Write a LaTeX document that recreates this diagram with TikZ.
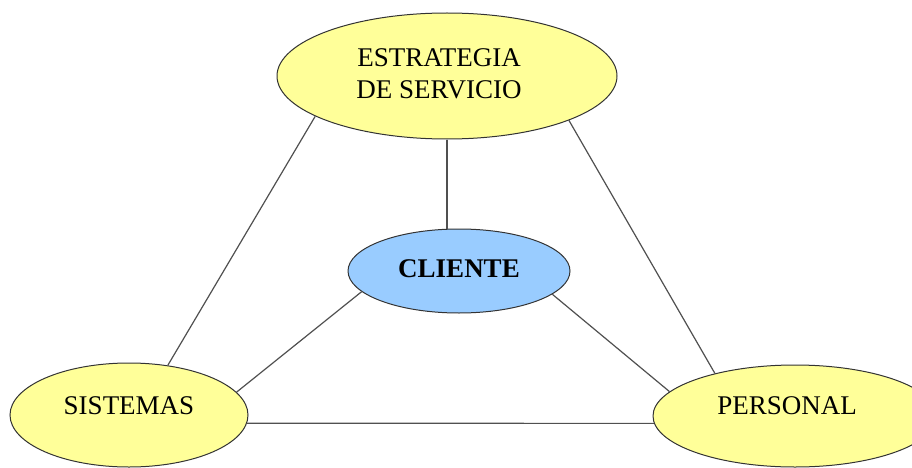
\documentclass[tikz,border=0pt]{standalone}
\usepackage{fontspec}
\setmainfont{Liberation Serif}
\usetikzlibrary{shapes.geometric}
\definecolor{ellyellow}{HTML}{FFFF99}
\definecolor{ellblue}{HTML}{99CCFF}
\definecolor{linkgray}{HTML}{505050}
\tikzset{
  ell/.style={ellipse, draw=black!80, line width=1pt, inner sep=0pt},
  yell/.style={ell, fill=ellyellow},
  bell/.style={ell, fill=ellblue},
  lbl/.style={font=\fontsize{27}{32}\selectfont, inner sep=0pt, align=center},
  link/.style={draw=linkgray, line width=1.2pt}
}
\begin{document}
\begin{tikzpicture}[x=1pt,y=-1pt]
\useasboundingbox (0,0) rectangle (912,468);
\clip (0,0) rectangle (912,468);
\fill[white] (0,0) rectangle (912,468);
\node[yell, minimum width=340pt, minimum height=126pt,
      label={[lbl, xshift=-8pt, yshift=2pt]center:ESTRATEGIA\\DE SERVICIO}] (top) at (447,76) {};
\node[bell, minimum width=222pt, minimum height=84pt,
      label={[lbl, font=\fontsize{27}{32}\selectfont\bfseries, yshift=2pt]center:CLIENTE}] (cli) at (459,271) {};
\node[yell, minimum width=238pt, minimum height=104pt,
      label={[lbl, yshift=9pt]center:SISTEMAS}] (sis) at (129,415) {};
\node[yell, minimum width=284pt, minimum height=102pt,
      label={[lbl, xshift=-8pt, yshift=10pt]center:PERSONAL}] (per) at (795,416) {};
\path[link] (top.197) -- (sis.52.5);
\path[link] (top.-20.3) -- (per.152.6);
\path[link] (top.south) -- (top.south |- cli.north);
\path[link] (cli.192.5) -- (sis.12.5);
\path[link] (cli.-14.3) -- (per.169.5);
\path[link] (sis.-4.8) -- (per.183.7);
\end{tikzpicture}
\end{document}
